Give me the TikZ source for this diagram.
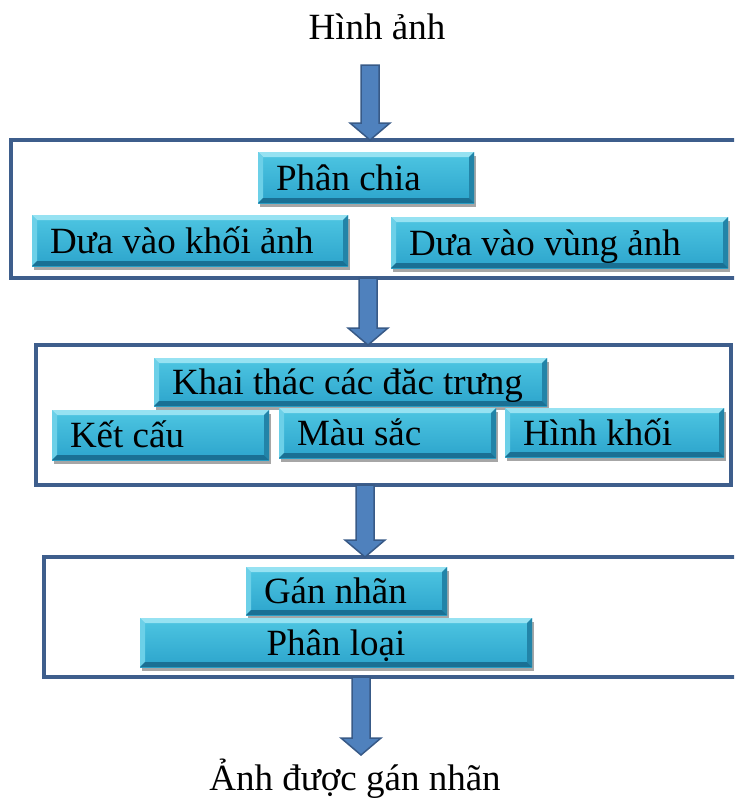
\documentclass[tikz,border=0pt]{standalone}
\usepackage{fontspec}
\setmainfont{Liberation Serif}
\usetikzlibrary{calc,shadows}
\definecolor{framec}{RGB}{62,94,140}
\definecolor{arrowfill}{RGB}{79,129,189}
\definecolor{arrowline}{RGB}{56,90,135}
\definecolor{btntop}{RGB}{78,198,226}
\definecolor{btnbot}{RGB}{44,164,204}
\definecolor{bevlight}{RGB}{150,226,242}
\definecolor{bevleft}{RGB}{108,208,232}
\definecolor{bevright}{RGB}{34,132,168}
\definecolor{bevbot}{RGB}{26,112,148}
\newcommand\fatarr[2]{%
  \draw[fatarrow] ($(#1)+(-9,0)$) -- ($(#2)+(-9,-17)$) -- ($(#2)+(-20,-17)$) -- (#2)
    -- ($(#2)+(20,-17)$) -- ($(#2)+(9,-17)$) -- ($(#1)+(9,0)$) -- cycle;}
\begin{document}
\begin{tikzpicture}[x=1pt,y=-1pt,
  frame/.style={draw=framec, line width=3.5pt, rectangle, inner sep=0pt, outer sep=0pt},
  lbl/.style={font=\fontsize{37}{42}\selectfont, inner sep=0pt},
  btn/.style={font=\fontsize{37}{42}\selectfont, inner xsep=18pt, inner ysep=0pt,
    text height=25pt, text depth=0pt, rectangle, outer sep=0pt,
    top color=btntop, bottom color=btnbot,
    drop shadow={shadow xshift=1.5pt, shadow yshift=-3.5pt, opacity=0.35, fill=black},
    path picture={
      \path (path picture bounding box.north west) coordinate (pnw)
            (path picture bounding box.north east) coordinate (pne)
            (path picture bounding box.south west) coordinate (psw)
            (path picture bounding box.south east) coordinate (pse);
      \fill[bevlight] (pnw) -- (pne) -- ($(pne)+(-5,5)$) -- ($(pnw)+(5,5)$) -- cycle;
      \fill[bevleft] (pnw) -- ($(pnw)+(5,5)$) -- ($(psw)+(5,-5)$) -- (psw) -- cycle;
      \fill[bevright] (pne) -- (pse) -- ($(pse)+(-5,-5)$) -- ($(pne)+(-5,5)$) -- cycle;
      \fill[bevbot] (psw) -- ($(psw)+(5,-5)$) -- ($(pse)+(-5,-5)$) -- (pse) -- cycle;
    }},
  fatarrow/.style={fill=arrowfill, draw=arrowline, line width=1.5pt, line join=miter}
]
\useasboundingbox (0,0) rectangle (734,798);
\clip (0,0) rectangle (734,798);

% frames
\node[frame, minimum width=739pt, minimum height=138pt] (f1) at (380.5,209) {};
\node[frame, minimum width=695pt, minimum height=140pt] (f2) at (383.5,415) {};
\node[frame, minimum width=706pt, minimum height=120pt] (f3) at (397,617) {};

% stage 1
\node[btn, minimum height=51pt] (phanchia) at (366,177.5) {\makebox[180pt][l]{Phân chia}};
\node[btn, minimum height=51pt] (khoi) at (190,240.5) {\makebox[280pt][l]{Dưa vào khối ảnh}};
\node[btn, minimum height=51pt] (vung) at (559.5,242.5) {\makebox[301pt][l]{Dưa vào vùng ảnh}};

% stage 2
\node[btn, minimum height=48pt] (khaithac) at (350.5,382) {\makebox[357pt][l]{Khai thác các đăc trưng}};
\node[btn, minimum height=50pt] (ketcau) at (160.5,435) {\makebox[181pt][l]{Kết cấu}};
\node[btn, minimum height=50pt] (mausac) at (387.5,433) {\makebox[181pt][l]{Màu sắc}};
\node[btn, minimum height=49pt] (hinhkhoi) at (614.5,432.5) {\makebox[183pt][l]{Hình khối}};

% stage 3
\node[btn, minimum height=48pt] (gannhan) at (346.5,591) {\makebox[165pt][l]{Gán nhãn}};
\node[btn, minimum height=49pt] (phanloai) at (336,642.5) {\makebox[356pt][c]{Phân loại}};

% labels
\node[lbl, anchor=base] (input) at (377,39) {Hình ảnh};
\node[lbl, anchor=base] (output) at (355,790) {Ảnh được gán nhãn};

% arrows
\coordinate (x1) at (370,0);
\coordinate (x2) at (368,0);
\coordinate (x3) at (365,0);
\coordinate (x4) at (361,0);
\coordinate (a1s) at (370,65);
\coordinate (a1e) at (x1 |- f1.north);
\coordinate (a2s) at (x2 |- f1.south);
\coordinate (a2e) at (x2 |- f2.north);
\coordinate (a3s) at (x3 |- f2.south);
\coordinate (a3e) at (x3 |- f3.north);
\coordinate (a4s) at (x4 |- f3.south);
\coordinate (a4e) at (361,755);
\fatarr{a1s}{a1e}
\fatarr{a2s}{a2e}
\fatarr{a3s}{a3e}
\fatarr{a4s}{a4e}
\end{tikzpicture}
\end{document}
